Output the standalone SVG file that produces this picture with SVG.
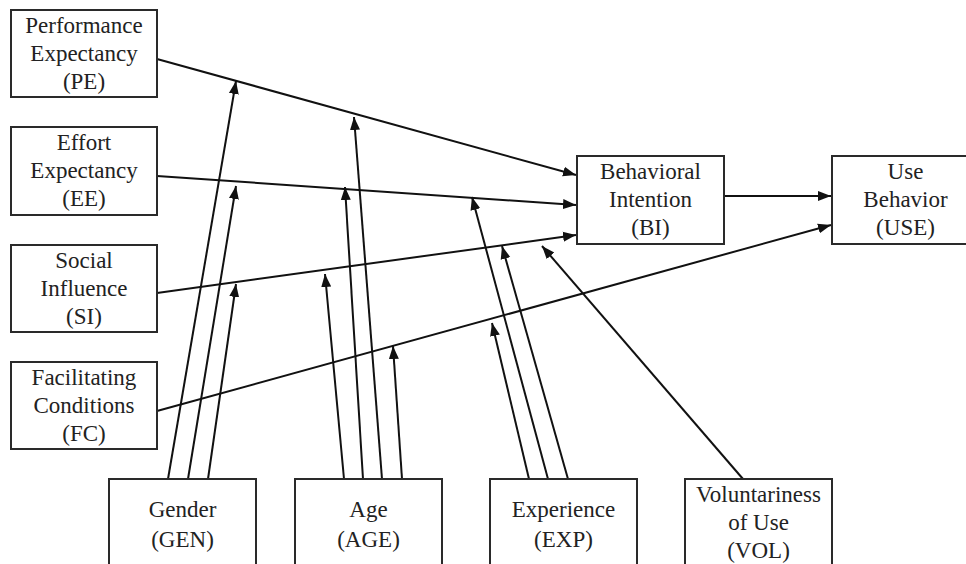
<svg xmlns="http://www.w3.org/2000/svg" width="966" height="564" viewBox="0 0 966 564">
<style>
.box{fill:#fff;stroke:#2a2a2a;stroke-width:2}
.t{font-family:"Liberation Serif","Times New Roman",serif;font-size:23px;fill:#222;text-anchor:middle}
.c{stroke:#111;stroke-width:2;fill:none;marker-end:url(#ah)}
</style>
<defs>
<marker id="ah" markerUnits="userSpaceOnUse" markerWidth="14" markerHeight="12" viewBox="0 0 14 12" refX="13" refY="6" orient="auto">
<path d="M0,1 L13,6 L0,11 Z" fill="#111"/>
</marker>
</defs>
<rect width="966" height="564" fill="#fff"/>
<g id="connectors">
<line class="c" x1="157" y1="59" x2="576" y2="175"/>
<line class="c" x1="157" y1="176" x2="576" y2="205"/>
<line class="c" x1="157" y1="293" x2="576" y2="235"/>
<line class="c" x1="157" y1="411" x2="831" y2="225"/>
<line class="c" x1="724" y1="196" x2="831" y2="196"/>
<line class="c" x1="168" y1="479" x2="236" y2="81"/>
<line class="c" x1="188" y1="479" x2="236" y2="186"/>
<line class="c" x1="208" y1="479" x2="236" y2="284"/>
<line class="c" x1="344" y1="479" x2="325" y2="274"/>
<line class="c" x1="363" y1="479" x2="345" y2="187"/>
<line class="c" x1="382" y1="479" x2="354" y2="117"/>
<line class="c" x1="402" y1="479" x2="393" y2="346"/>
<line class="c" x1="529" y1="479" x2="492" y2="323"/>
<line class="c" x1="548" y1="479" x2="472" y2="197"/>
<line class="c" x1="568" y1="479" x2="502" y2="246"/>
<line class="c" x1="743" y1="479" x2="542" y2="246"/>
</g>
<g id="PE"><rect class="box" x="11" y="10" width="146" height="87"/>
<text class="t" x="84" y="33">Performance</text><text class="t" x="84" y="61">Expectancy</text><text class="t" x="84" y="89">(PE)</text></g>
<g id="EE"><rect class="box" x="11" y="127" width="146" height="88"/>
<text class="t" x="84" y="150">Effort</text><text class="t" x="84" y="178">Expectancy</text><text class="t" x="84" y="206">(EE)</text></g>
<g id="SI"><rect class="box" x="11" y="245" width="146" height="87"/>
<text class="t" x="84" y="268">Social</text><text class="t" x="84" y="296">Influence</text><text class="t" x="84" y="324">(SI)</text></g>
<g id="FC"><rect class="box" x="11" y="362" width="146" height="87"/>
<text class="t" x="84" y="385">Facilitating</text><text class="t" x="84" y="413">Conditions</text><text class="t" x="84" y="441">(FC)</text></g>
<g id="BI"><rect class="box" x="577" y="156" width="147" height="88"/>
<text class="t" x="650.5" y="179">Behavioral</text><text class="t" x="650.5" y="207">Intention</text><text class="t" x="650.5" y="235">(BI)</text></g>
<g id="USE"><rect class="box" x="832" y="156" width="147" height="88"/>
<text class="t" x="905.5" y="179">Use</text><text class="t" x="905.5" y="207">Behavior</text><text class="t" x="905.5" y="235">(USE)</text></g>
<g id="GEN"><rect class="box" x="109" y="479" width="147" height="100"/>
<text class="t" x="182.5" y="517">Gender</text><text class="t" x="182.5" y="547">(GEN)</text></g>
<g id="AGE"><rect class="box" x="295" y="479" width="147" height="100"/>
<text class="t" x="368.5" y="517">Age</text><text class="t" x="368.5" y="547">(AGE)</text></g>
<g id="EXP"><rect class="box" x="490" y="479" width="147" height="100"/>
<text class="t" x="563.5" y="517">Experience</text><text class="t" x="563.5" y="547">(EXP)</text></g>
<g id="VOL"><rect class="box" x="685" y="479" width="147" height="100"/>
<text class="t" x="758.5" y="502">Voluntariness</text><text class="t" x="758.5" y="530">of Use</text><text class="t" x="758.5" y="558">(VOL)</text></g>
</svg>
